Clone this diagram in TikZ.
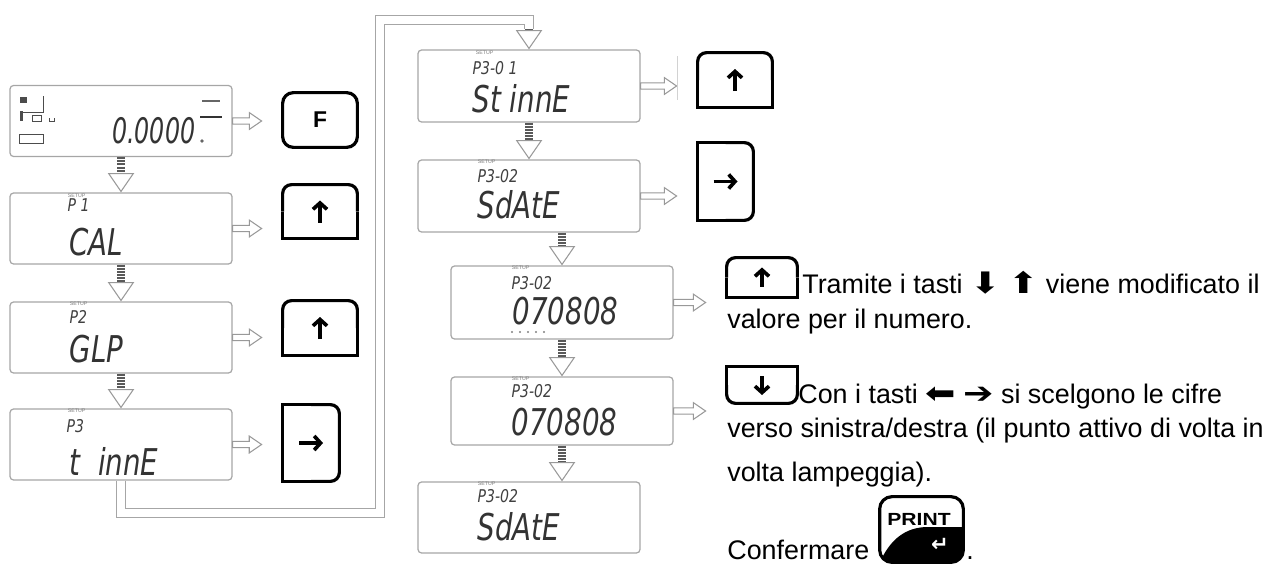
\documentclass[tikz,border=0pt]{standalone}
\usepackage{fontspec}
\setmainfont{Liberation Sans}
\newfontfamily\lcdfont{DejaVu Sans}
\newfontfamily\symfont{DejaVu Sans}
\usetikzlibrary{arrows.meta,calc,positioning}

\tikzset{
  disp/.style={draw=gray!70, line width=0.7pt, rounded corners=2pt, minimum width=4.44cm, minimum height=1.42cm, inner sep=0pt},
  lcdbig/.style={anchor=west, inner sep=0pt, text=black!80, xscale=0.75, font=\lcdfont\itshape\fontsize{21}{21}\selectfont},
  lcdsmall/.style={anchor=west, inner sep=0pt, text=black!75, xscale=0.8, font=\lcdfont\itshape\fontsize{10}{10}\selectfont},
  setup/.style={anchor=west, inner sep=0pt, text=gray, font=\fontsize{3}{3}\selectfont},
  keybox/.style={inner sep=0pt},
  keyline/.style={line width=1.8pt, black},
  keyarrow/.style={line width=2.1pt, -{Straight Barb[length=3.6pt, width=8pt, line width=2.1pt]}},
  dnarrow/.style={draw=black!65, line width=4.5pt, dash pattern=on 1.1pt off 0.7pt, -{Triangle[length=11pt, width=15pt, fill=white, color=gray!80, line width=0.6pt]}},
  rarrow/.style={draw=gray!80, fill=white, line width=0.6pt, to path={let \p1=(\tikztostart), \p2=(\tikztotarget) in (\x1,\y1+1.8pt) -- (\x2-19pt,\y1+1.8pt) -- (\x2-19pt,\y1+4.8pt) -- (\x2-12pt,\y1) -- (\x2-19pt,\y1-4.8pt) -- (\x2-19pt,\y1-1.8pt) -- (\x1,\y1-1.8pt) -- cycle}},
  pipe/.style={draw=gray!70, line width=0.7pt, double=white, double distance=4.5pt},
  txt/.style={anchor=base west, inner sep=0pt, font=\fontsize{15.3}{18}\selectfont}
}
\newcommand{\bigarr}[1]{{\symfont\scalebox{1.35}[1.1]{#1}}}

\begin{document}
\begin{tikzpicture}[x=0.02cm, y=-0.02cm]
\useasboundingbox (0,0) rectangle (1267,568);

% displays, left column
\node[disp] (d0) at (121,121) {};
\node[disp] (d1) at (121,228.5) {};
\node[disp] (d2) at (121,337.5) {};
\node[disp] (d3) at (121,444.5) {};
% displays, middle column
\node[disp, minimum height=1.44cm] (s1) at (529,86) {};
\node[disp, minimum height=1.44cm] (s2) at (529,196) {};
\node[disp, minimum height=1.46cm] (s3) at (562,302.5) {};
\node[disp, minimum height=1.36cm] (s4) at (562,411) {};
\node[disp] (s5) at (529,517.5) {};

% display texts
\node[lcdbig, font=\lcdfont\itshape\fontsize{20}{20}\selectfont, xscale=0.9] (w0) at (112,131) {0.0000};
\fill[black!60] (202,141) circle (1pt);
\draw[black!60, line width=0.7pt] (202,101) -- (220,101);
\draw[black!80, line width=1.3pt] (200,117) -- (222,117);
\fill[gray!60!black] (20,97) rectangle (27,103);
\draw[gray!60!black, line width=0.5pt] (43,96) -- (43,112) -- (23,112);
\fill[black!70] (20,111) rectangle (23,121);
\draw[gray!60!black, line width=0.4pt] (32,115) rectangle (41,121);
\draw[gray!60!black, line width=0.5pt] (49,118) -- (49,121) -- (54,121) -- (54,118);
\draw[gray!60!black, line width=0.4pt] (19,134) rectangle (43,143);

\node[setup] at ($(d1.north west)+(58,3)$) {SETUP};
\node[lcdsmall] at ($(d1.north west)+(58,13)$) {P 1};
\node[lcdbig] at ($(d1.north west)+(60,50)$) {CAL};
\node[setup] at ($(d2.north west)+(60,2)$) {SETUP};
\node[lcdsmall] at ($(d2.north west)+(60,16)$) {P2};
\node[lcdbig] at ($(d2.north west)+(60,48)$) {GLP};
\node[setup] at ($(d3.north west)+(58,2)$) {SETUP};
\node[lcdsmall] at ($(d3.north west)+(57,18)$) {P3};
\node[lcdbig] at ($(d3.north west)+(60,53)$) {t\ \ innE};

\node[setup] at ($(s1.north west)+(58,3)$) {SETUP};
\node[lcdsmall] at ($(s1.north west)+(55,19)$) {P3-0 1};
\node[lcdbig] at ($(s1.north west)+(55,49)$) {St\ innE};
\node[setup] at ($(s2.north west)+(60,2)$) {SETUP};
\node[lcdsmall] at ($(s2.north west)+(60,17)$) {P3-02};
\node[lcdbig] at ($(s2.north west)+(60,45)$) {SdAtE};
\node[setup] at ($(s3.north west)+(61,2)$) {SETUP};
\node[lcdsmall] at ($(s3.north west)+(61,18)$) {P3-02};
\node[lcdbig] at ($(s3.north west)+(62,46)$) {070808};
\foreach \i in {0,...,4}
  \fill[gray] (512+8*\i,332) circle (0.6pt);
\node[setup] at ($(s4.north west)+(61,2)$) {SETUP};
\node[lcdsmall] at ($(s4.north west)+(61,15)$) {P3-02};
\node[lcdbig] at ($(s4.north west)+(61,46)$) {070808};
\node[setup] at ($(s5.north west)+(60,2)$) {SETUP};
\node[lcdsmall] at ($(s5.north west)+(60,15)$) {P3-02};
\node[lcdbig] at ($(s5.north west)+(60,45)$) {SdAtE};

% keys
\node[keybox, minimum width=1.48cm, minimum height=1.08cm, font=\bfseries\fontsize{13}{13}\selectfont] (kF) at (320,120) {F};
\node[keybox, minimum width=1.48cm, minimum height=1.06cm] (kU1) at (320,211.5) {};
\node[keybox, minimum width=1.48cm, minimum height=1.08cm] (kU2) at (320,328) {};
\node[keybox, minimum width=1.12cm, minimum height=1.52cm] (kR1) at (311,443) {};
\node[keybox, minimum width=1.48cm, minimum height=1.08cm] (kU3) at (735,80) {};
\node[keybox, minimum width=1.10cm, minimum height=1.54cm] (kR2) at (725.5,181.5) {};
\node[keybox, minimum width=1.40cm, minimum height=0.78cm] (kU4) at (762,277.5) {};
\node[keybox, minimum width=1.40cm, minimum height=0.72cm] (kD) at (762,385) {};
\node[keybox, minimum width=1.66cm, minimum height=1.30cm] (kP) at (921.5,529.5) {};

\draw[keyline, rounded corners=6pt] (kF.north west) rectangle (kF.south east);
\foreach \k in {kU1,kU2,kU3,kU4} {
  \draw[keyline, rounded corners=5pt] (\k.west) |- (\k.north) -| (\k.east);
  \draw[keyline] (\k.west) |- (\k.south) -| (\k.east);
}
\foreach \k in {kR1,kR2} {
  \draw[keyline, rounded corners=5pt] (\k.north) -| (\k.east) |- (\k.south);
  \draw[keyline] (\k.north) -| (\k.west) |- (\k.south);
}
\draw[keyline, rounded corners=5pt] (kD.west) |- (kD.south) -| (kD.east);
\draw[keyline] (kD.west) |- (kD.north) -| (kD.east);

% key symbols
\foreach \k in {kU1,kU2,kU3}
  \draw[keyarrow] ($(\k.center)+(0,11)$) -- ($(\k.center)+(0,-11)$);
\foreach \k in {kR1,kR2}
  \draw[keyarrow] ($(\k.center)+(-12,0)$) -- ($(\k.center)+(12,0)$);
\draw[keyarrow, line width=1.8pt] ($(kU4.center)+(0,9)$) -- ($(kU4.center)+(0,-10)$);
\draw[keyarrow, line width=1.8pt] ($(kD.center)+(0,-9)$) -- ($(kD.center)+(0,10)$);

\begin{scope}
  \clip[rounded corners=7pt] (kP.north west) rectangle (kP.south east);
  \fill (880,562) .. controls (890,540) and (905,527) .. (928,527) -- (963,527) -- (963,562) -- cycle;
\end{scope}
\draw[keyline, rounded corners=7pt] (kP.north west) rectangle (kP.south east);
\node[inner sep=0pt, xscale=1.2, font=\bfseries\fontsize{10}{10}\selectfont] (pr) at (919,519) {PRINT};
\node[inner sep=0pt, text=white, font=\symfont\bfseries\fontsize{12}{12}\selectfont] (ret) at (940,545) {↵};

% down arrows
\draw[dnarrow] (d0.south) -- (d1.north);
\draw[dnarrow] (d1.south) -- (d2.north);
\draw[dnarrow] (d2.south) -- (d3.north);
\draw[dnarrow] (s1.south) -- (s2.north);
\draw[dnarrow] (s3.north |- s2.south) -- (s3.north);
\draw[dnarrow] (s3.south) -- (s4.north);
\draw[dnarrow] (s4.south) -- (s4.south |- s5.north);

% loop back to P3-01
\coordinate (lp1) at (380,513);
\coordinate (lp2) at (529,20);
\coordinate (lp3) at (529,29);
\draw[pipe] (d3.south) |- (lp1) |- (lp2) -- (lp3);
\draw[dnarrow] (lp3) -- (s1.north);

% right arrows
\path[rarrow] (d0.east) to (kF.west |- d0.east);
\path[rarrow] (d1.east) to (kU1.west |- d1.east);
\path[rarrow] (d2.east) to (kU2.west |- d2.east);
\path[rarrow] (d3.east) to (kR1.west |- d3.east);
\path[rarrow] (s1.east) to (kU3.west |- s1.east);
\path[rarrow] (s2.east) to (kR2.west |- s2.east);
\path[rarrow] (s3.east) to (kU4.west |- s3.east);
\path[rarrow] (s4.east) to (kD.west |- s4.east);
\draw[gray!35, line width=0.4pt] (677,56) -- (677,100);

% texts
\node[txt] (l1) at (802,293) {Tramite i tasti \bigarr{⬇} \bigarr{⬆} viene modificato il};
\node[txt] (l2) at (727,328) {valore per il numero.};
\node[txt] (l3) at (798,403) {Con i tasti \bigarr{⬅} \bigarr{➔} si scelgono le cifre};
\node[txt] (l4) at (727,437) {verso sinistra/destra (il punto attivo di volta in};
\node[txt] (l5) at (727,481) {volta lampeggia).};
\node[txt] (l6) at (727,559) {Confermare};
\node[txt] (l7) at (966,559) {.};
\end{tikzpicture}
\end{document}
